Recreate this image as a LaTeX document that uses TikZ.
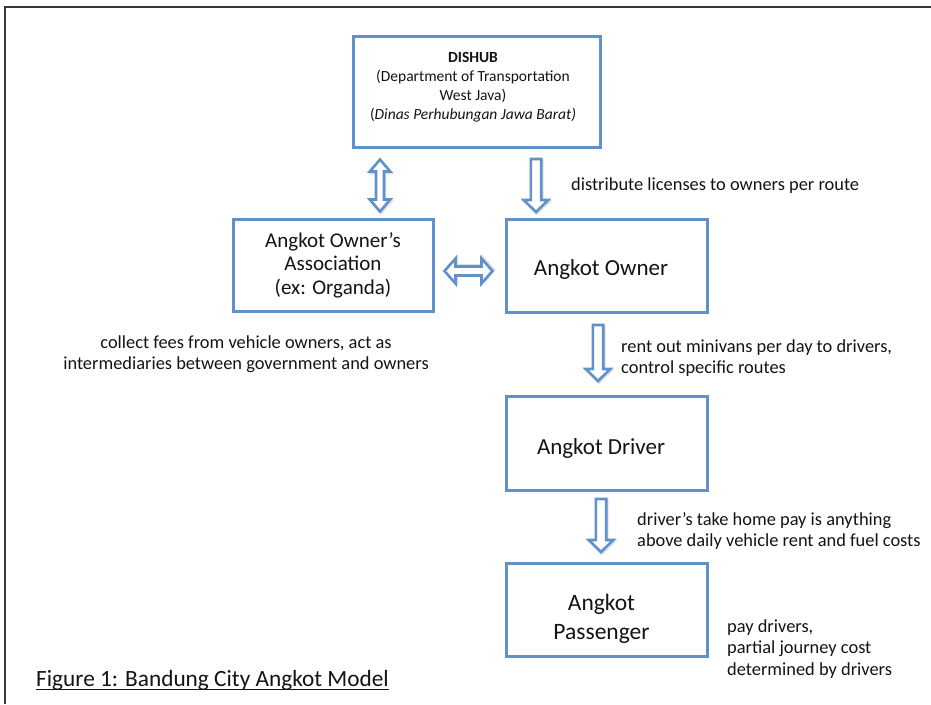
\documentclass[tikz,border=0pt]{standalone}
\usepackage{fontspec}
\setmainfont{Carlito}
\usetikzlibrary{shadows}
\definecolor{boxblue}{RGB}{96,145,203}
\definecolor{framegray}{RGB}{55,55,55}
\definecolor{inkblack}{RGB}{20,20,20}
\begin{document}
\begin{tikzpicture}[x=1pt,y=-1pt,
  every node/.style={text=inkblack},
  softshadow/.style={drop shadow={shadow xshift=1pt,shadow yshift=-1.5pt,opacity=0.18,fill=black}},
  box/.style={draw=boxblue,line width=3pt,fill=white,inner sep=0pt,align=center,softshadow},
  boxtext/.style={inner sep=0pt,align=center},
  blockarrow/.style={draw=boxblue,line width=2.6pt,fill=white},
  arrowshadow/.style={draw=black!12,line width=2.6pt},
  pics/blockdown/.style n args={4}{code={
    \draw[arrowshadow,shift={(1,1.5)}] (-#2,-#1/2) -- (#2,-#1/2) -- (#2,#1/2-#4) -- (#3,#1/2-#4) -- (0,#1/2)
      -- (-#3,#1/2-#4) -- (-#2,#1/2-#4) -- cycle;
    \draw[blockarrow] (-#2,-#1/2) -- (#2,-#1/2) -- (#2,#1/2-#4) -- (#3,#1/2-#4) -- (0,#1/2)
      -- (-#3,#1/2-#4) -- (-#2,#1/2-#4) -- cycle;}},
  pics/blockboth/.style n args={4}{code={
    \draw[arrowshadow,shift={(1,1.5)}] (0,-#1/2) -- (#3,-#1/2+#4) -- (#2,-#1/2+#4) -- (#2,#1/2-#4) -- (#3,#1/2-#4)
      -- (0,#1/2) -- (-#3,#1/2-#4) -- (-#2,#1/2-#4) -- (-#2,-#1/2+#4) -- (-#3,-#1/2+#4) -- cycle;
    \draw[blockarrow] (0,-#1/2) -- (#3,-#1/2+#4) -- (#2,-#1/2+#4) -- (#2,#1/2-#4) -- (#3,#1/2-#4)
      -- (0,#1/2) -- (-#3,#1/2-#4) -- (-#2,#1/2-#4) -- (-#2,-#1/2+#4) -- (-#3,-#1/2+#4) -- cycle;}},
  note/.style={font=\fontsize{18.4}{21.5}\selectfont,inner sep=0pt,align=left,anchor=west},
  bigtext/.style={font=\fontsize{23}{28}\selectfont}
]
\useasboundingbox (0,0) rectangle (931,704);
\fill[white] (0,0) rectangle (931,704);
\draw[framegray,line width=1.5pt] (931,7) -- (5,7) -- (5,704);

% boxes
\node[box,minimum width=247pt,minimum height=111pt] (dishub) at (476.5,91.5) {};
\node[boxtext,font=\fontsize{15.5}{19}\selectfont] (dishubtext) at (473,87)
  {\textbf{DISHUB}\\(Department of Transportation\\West Java)\\(\textit{Dinas Perhubungan Jawa Barat)}};
\node[box,minimum width=200pt,minimum height=92pt,font=\fontsize{21}{23.5}\selectfont] (assoc) at (333,265)
  {Angkot Owner’s\\Association\\(ex: Organda)};
\node[box,minimum width=201pt,minimum height=93pt] (owner) at (606.5,265.5) {};
\node[boxtext,bigtext] (ownertext) at (601,269.5) {Angkot Owner};
\node[box,minimum width=201pt,minimum height=94pt] (driver) at (606.5,443) {};
\node[boxtext,bigtext] (drivertext) at (601,448) {Angkot Driver};
\node[box,minimum width=201pt,minimum height=93pt] (passenger) at (606.5,609.5) {};
\node[boxtext,font=\fontsize{23.5}{29}\selectfont] (passengertext) at (601.5,618.5) {Angkot\\Passenger};

% block arrows
\pic (arrDA) at (380,185.5) {blockboth={52}{4}{10.2}{12}};
\pic (arrDO) at (536,185.5) {blockdown={53}{5.2}{12.2}{12}};
\pic[rotate=90] (arrAO) at (468.5,271) {blockboth={48}{4.5}{12.5}{11}};
\pic (arrOD) at (598,353) {blockdown={56}{5.2}{12.2}{12}};
\pic (arrDP) at (601,525.5) {blockdown={53}{5.2}{12.2}{12}};

% notes
\node[note] (tlic) at (571,186) {distribute licenses to owners per route};
\node[note,align=center,anchor=center] (tfees) at (246,354)
  {collect fees from vehicle owners, act as\\intermediaries between government and owners};
\node[note] (trent) at (621,358) {rent out minivans per day to drivers,\\control specific routes};
\node[note] (tpay) at (637,531) {driver’s take home pay is anything\\above daily vehicle rent and fuel costs};
\node[note] (tpass) at (727,649) {pay drivers,\\partial journey cost\\determined by drivers};

% caption
\node[inner sep=0pt,anchor=west,font=\fontsize{23.3}{28}\selectfont] (caption) at (36,680)
  {Figure 1: Bandung City Angkot Model};
\draw[inkblack,line width=1.8pt] ([yshift=-3.5pt]caption.base west) -- ([yshift=-3.5pt]caption.base east);
\end{tikzpicture}
\end{document}
